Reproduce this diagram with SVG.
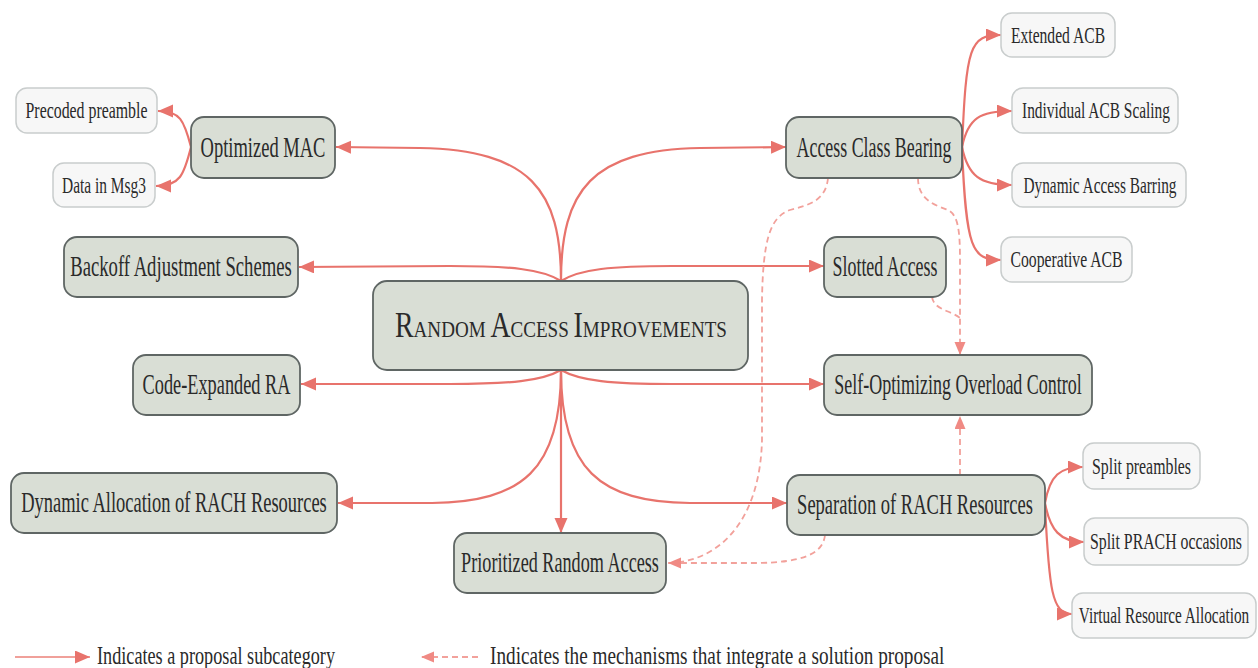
<svg xmlns="http://www.w3.org/2000/svg" width="1258" height="668" viewBox="0 0 1258 668">
<style>
.main rect{fill:#d9ded5;stroke:#5f6664;stroke-width:1.8}
.sub rect{fill:#f7f7f7;stroke:#c9cdcd;stroke-width:1.5}
text{font-family:"Liberation Serif","Times New Roman",serif;fill:#2a2a2a;text-anchor:middle}
.main text{font-size:29px}
.sub text{font-size:24px}
.legend text{font-size:26px;text-anchor:start}
.solid{fill:none;stroke:#e8736c;stroke-width:2.2}
.dash{fill:none;stroke:#f2a19b;stroke-width:1.8;stroke-dasharray:6 4}
</style>
<defs>
<marker id="ah" markerUnits="userSpaceOnUse" markerWidth="16" markerHeight="14" refX="15" refY="6.5" orient="auto">
<path d="M0,0 L15,6.5 L0,13 Z" fill="#e8736c"/>
</marker>
<marker id="ahd" markerUnits="userSpaceOnUse" markerWidth="14" markerHeight="12" refX="13" refY="5.5" orient="auto">
<path d="M0,0 L13,5.5 L0,11 Z" fill="#f08a84"/>
</marker>
</defs>

<g id="connectors">
<path class="solid" marker-end="url(#ah)" d="M561,281 C561,190 530,150 420,148 L336,147"/>
<path class="solid" marker-end="url(#ah)" d="M561,281 C561,190 592,150 700,148 L786,147"/>
<path class="solid" marker-end="url(#ah)" d="M561,281 C542,269 510,266 450,266 L299,267"/>
<path class="solid" marker-end="url(#ah)" d="M561,281 C580,269 612,266 672,266 L824,266"/>
<path class="solid" marker-end="url(#ah)" d="M561,370 C542,381 510,384 450,384 L301,384"/>
<path class="solid" marker-end="url(#ah)" d="M561,370 C580,381 612,384 672,384 L824,384"/>
<path class="solid" marker-end="url(#ah)" d="M561,370 C561,470 522,502 432,503 L338,503"/>
<path class="solid" marker-end="url(#ah)" d="M561,370 C561,470 600,502 690,503 L787,503"/>
<path class="solid" marker-end="url(#ah)" d="M561,370 L561,533"/>
<path class="solid" marker-end="url(#ah)" d="M191,147 C184,120 180,111 158,111"/>
<path class="solid" marker-end="url(#ah)" d="M191,147 C184,175 180,186 156,186"/>
<path class="solid" marker-end="url(#ah)" d="M962,150 C966,45 970,35 1001,35"/>
<path class="solid" marker-end="url(#ah)" d="M962,147 C968,118 980,111 1012,111"/>
<path class="solid" marker-end="url(#ah)" d="M962,147 C968,176 980,185 1012,185"/>
<path class="solid" marker-end="url(#ah)" d="M962,147 C966,250 972,260 1001,260"/>
<path class="solid" marker-end="url(#ah)" d="M1045,503 C1050,475 1060,467 1083,467"/>
<path class="solid" marker-end="url(#ah)" d="M1045,503 C1050,530 1060,542 1084,542"/>
<path class="solid" marker-end="url(#ah)" d="M1045,505 C1049,590 1052,614 1072,614"/>
<path class="dash" d="M828,178 C826,200 810,205 790,210 C770,217 763,240 762,300 L762,440 C760,520 720,562 668,563"/>
<path class="dash" marker-end="url(#ahd)" d="M825,535 C823,555 800,562 760,563 L668,563"/>
<path class="dash" marker-end="url(#ahd)" d="M918,178 C918,200 935,205 948,210 C958,215 960,230 960,260 L960,355"/>
<path class="dash" d="M932,297 C934,310 950,310 960,318"/>
<path class="dash" marker-end="url(#ahd)" d="M960,475 L960,416"/>
</g>

<g id="n-rai" class="main">
<rect x="373" y="281" width="375" height="89" rx="14"/>
<text transform="translate(561,337) scale(0.795,1)"><tspan font-size="35">R</tspan><tspan font-size="24">ANDOM </tspan><tspan font-size="35">A</tspan><tspan font-size="24">CCESS </tspan><tspan font-size="35">I</tspan><tspan font-size="24">MPROVEMENTS</tspan></text>
</g>
<g id="n-optmac" class="main">
<rect x="191" y="117" width="144" height="61" rx="13"/>
<text transform="translate(263,157) scale(0.638,1)">Optimized MAC</text>
</g>
<g id="n-backoff" class="main">
<rect x="64" y="237" width="234" height="60" rx="13"/>
<text transform="translate(181,276) scale(0.644,1)">Backoff Adjustment Schemes</text>
</g>
<g id="n-code" class="main">
<rect x="133" y="355" width="167" height="60" rx="13"/>
<text transform="translate(216.5,394) scale(0.631,1)">Code-Expanded RA</text>
</g>
<g id="n-dyn" class="main">
<rect x="11" y="473" width="326" height="60" rx="13"/>
<text transform="translate(174,512) scale(0.637,1)">Dynamic Allocation of RACH Resources</text>
</g>
<g id="n-prio" class="main">
<rect x="454" y="533" width="212" height="60" rx="13"/>
<text transform="translate(560,572) scale(0.627,1)">Prioritized Random Access</text>
</g>
<g id="n-acb" class="main">
<rect x="786" y="117" width="176" height="61" rx="13"/>
<text transform="translate(874,157) scale(0.617,1)">Access Class Bearing</text>
</g>
<g id="n-slotted" class="main">
<rect x="824" y="237" width="122" height="60" rx="13"/>
<text transform="translate(885,276) scale(0.618,1)">Slotted Access</text>
</g>
<g id="n-sooc" class="main">
<rect x="824" y="355" width="268" height="60" rx="13"/>
<text transform="translate(958,394) scale(0.62,1)">Self-Optimizing Overload Control</text>
</g>
<g id="n-sep" class="main">
<rect x="787" y="475" width="258" height="60" rx="13"/>
<text transform="translate(915,514) scale(0.638,1)">Separation of RACH Resources</text>
</g>

<g id="n-precoded" class="sub">
<rect x="16" y="88" width="141" height="45" rx="11"/>
<text transform="translate(86.5,118) scale(0.661,1)">Precoded preamble</text>
</g>
<g id="n-msg3" class="sub">
<rect x="53" y="163" width="102" height="44" rx="11"/>
<text transform="translate(104,193) scale(0.643,1)">Data in Msg3</text>
</g>
<g id="n-eacb" class="sub">
<rect x="1001" y="13" width="114" height="44" rx="11"/>
<text transform="translate(1058,43) scale(0.651,1)">Extended ACB</text>
</g>
<g id="n-iacb" class="sub">
<rect x="1012" y="88" width="166" height="45" rx="11"/>
<text transform="translate(1096,118) scale(0.642,1)">Individual ACB Scaling</text>
</g>
<g id="n-dab" class="sub">
<rect x="1012" y="163" width="174" height="44" rx="11"/>
<text transform="translate(1100,193) scale(0.638,1)">Dynamic Access Barring</text>
</g>
<g id="n-cacb" class="sub">
<rect x="1001" y="237" width="131" height="45" rx="11"/>
<text transform="translate(1066.5,267) scale(0.654,1)">Cooperative ACB</text>
</g>
<g id="n-splitpre" class="sub">
<rect x="1083" y="443" width="117" height="46" rx="11"/>
<text transform="translate(1141.5,474) scale(0.66,1)">Split preambles</text>
</g>
<g id="n-splitprach" class="sub">
<rect x="1084" y="518" width="164" height="47" rx="11"/>
<text transform="translate(1166,549) scale(0.659,1)">Split PRACH occasions</text>
</g>
<g id="n-vra" class="sub">
<rect x="1072" y="593" width="184" height="45" rx="11"/>
<text transform="translate(1164,623) scale(0.636,1)">Virtual Resource Allocation</text>
</g>

<g id="legend" class="legend">
<path d="M15,657 L90,657" fill="none" stroke="#f0a09a" stroke-width="2.2" marker-end="url(#ah)"/>
<text transform="translate(97,664) scale(0.70,1)">Indicates a proposal subcategory</text>
<path d="M478,657 L421,657" class="dash" marker-end="url(#ahd)"/>
<text transform="translate(490,664) scale(0.74,1)">Indicates the mechanisms that integrate a solution proposal</text>
</g>
</svg>
